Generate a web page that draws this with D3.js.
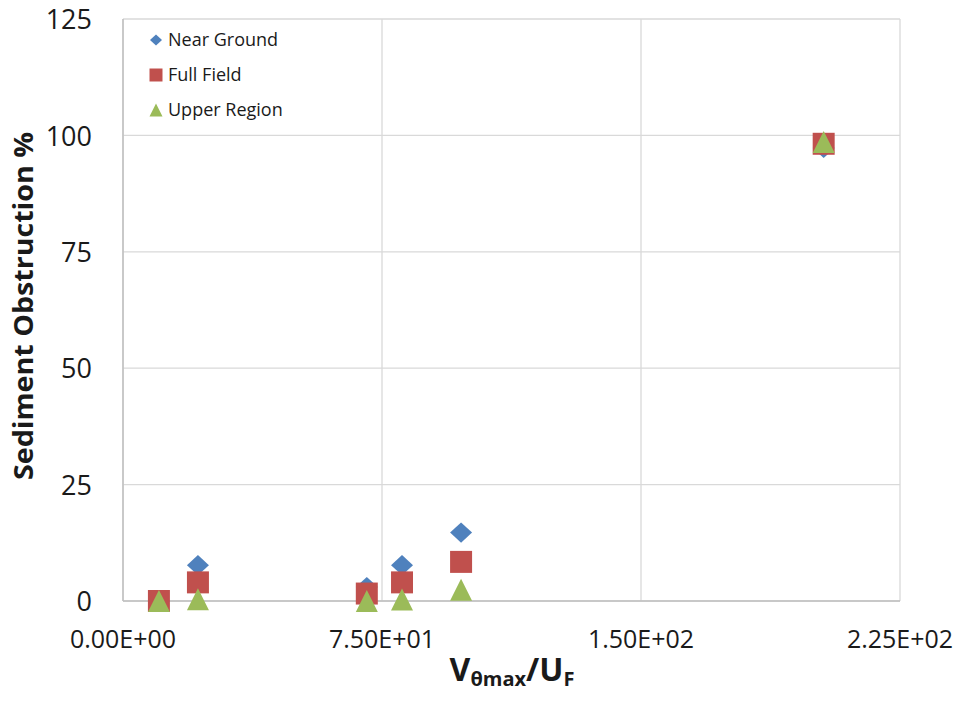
<!DOCTYPE html>
<html>
<head>
<meta charset="utf-8">
<script src="https://cdn.jsdelivr.net/npm/d3@7"></script>
<style>
  html, body { margin: 0; padding: 0; background: #fff; }
  svg { display: block; font-family: "Open Sans", "Liberation Sans", sans-serif; }
</style>
</head>
<body>
<svg id="chart" width="963" height="703"></svg>
<script>
// Ratio V_θmax / U_F for each case
const ratio = [10.4, 21.7, 70.6, 80.8, 97.9, 202.9];
// Sediment obstruction (%) per region
const nearGround  = [0, 7.7, 3.0, 7.7, 14.7, 97.3];
const fullField   = [0, 4.0, 1.6, 4.0, 8.4, 98.2];
const upperRegion = [0, 0.4, 0, 0.3, 2.4, 98.6];

const xTicks = [0, 75, 150, 225];
const yTicks = [0, 25, 50, 75, 100, 125];

const seriesNames = ["Near Ground", "Full Field", "Upper Region"];
const seriesColors = ["#4F81BD", "#C0504D", "#9BBB59"];
const seriesShapes = ["diamond", "square", "triangle"];
const seriesValues = [nearGround, fullField, upperRegion];

const svg = d3.select("#chart");
const plot = { left: 123, right: 900, top: 19, bottom: 601 };

const x = d3.scaleLinear().domain([0, 225]).range([plot.left, plot.right]);
const y = d3.scaleLinear().domain([0, 125]).range([plot.bottom, plot.top]);

// Marker outline centred on (cx, cy), s = full width
function shapePath(kind, cx, cy, s) {
  const h = s / 2;
  if (kind === "diamond") {
    const v = h * 0.92;
    return `M${cx},${cy - v}L${cx + h},${cy}L${cx},${cy + v}L${cx - h},${cy}Z`;
  }
  if (kind === "square") {
    return `M${cx - h},${cy - h}h${s}v${s}h${-s}Z`;
  }
  // triangle, centred on its bounding box
  return `M${cx},${cy - h}L${cx + h},${cy + h}L${cx - h},${cy + h}Z`;
}

// Gridlines
svg.append("g")
  .selectAll("line")
  .data(yTicks)
  .join("line")
  .attr("x1", plot.left).attr("x2", plot.right)
  .attr("y1", d => y(d)).attr("y2", d => y(d))
  .attr("stroke", "#D9D9D9").attr("stroke-width", 1.3);

svg.append("g")
  .selectAll("line")
  .data(xTicks)
  .join("line")
  .attr("x1", d => x(d)).attr("x2", d => x(d))
  .attr("y1", plot.top).attr("y2", plot.bottom)
  .attr("stroke", "#D9D9D9").attr("stroke-width", 1.3);

// Axis lines
svg.append("line")
  .attr("x1", plot.left).attr("x2", plot.left)
  .attr("y1", plot.top).attr("y2", plot.bottom)
  .attr("stroke", "#BFBFBF").attr("stroke-width", 1.5);
svg.append("line")
  .attr("x1", plot.left).attr("x2", plot.right)
  .attr("y1", plot.bottom).attr("y2", plot.bottom)
  .attr("stroke", "#BFBFBF").attr("stroke-width", 1.5);

// Y tick labels
svg.append("g")
  .selectAll("text")
  .data(yTicks)
  .join("text")
  .attr("x", 92)
  .attr("y", d => y(d))
  .attr("dy", "0.38em")
  .attr("text-anchor", "end")
  .attr("font-size", 27)
  .attr("fill", "#1a1a1a")
  .text(d => d);

// X tick labels in scientific notation
const sci = d => {
  if (d === 0) return "0.00E+00";
  const e = Math.floor(Math.log10(Math.abs(d)));
  const m = d / Math.pow(10, e);
  return m.toFixed(2) + "E+" + String(e).padStart(2, "0");
};
svg.append("g")
  .selectAll("text")
  .data(xTicks)
  .join("text")
  .attr("x", d => x(d))
  .attr("y", 648)
  .attr("text-anchor", "middle")
  .attr("font-size", 25)
  .attr("fill", "#1a1a1a")
  .text(sci);

// Axis titles
svg.append("text")
  .attr("transform", "translate(33,306) rotate(-90)")
  .attr("text-anchor", "middle")
  .attr("font-size", 26)
  .attr("font-weight", "bold")
  .attr("fill", "#1a1a1a")
  .attr("textLength", 348)
  .attr("lengthAdjust", "spacingAndGlyphs")
  .text("Sediment Obstruction %");

const xt = svg.append("text")
  .attr("x", 512)
  .attr("y", 681)
  .attr("text-anchor", "middle")
  .attr("font-weight", "bold")
  .attr("fill", "#1a1a1a")
  .attr("font-size", 32);
xt.append("tspan").text("V");
xt.append("tspan").attr("font-size", 20).attr("dy", 5).text("θmax");
xt.append("tspan").attr("dy", -5).text("/U");
xt.append("tspan").attr("font-size", 20).attr("dy", 5).text("F");

// Data markers, one group per series
seriesValues.forEach((vals, i) => {
  svg.append("g")
    .selectAll("path")
    .data(vals.map((v, j) => ({ x: ratio[j], y: v })))
    .join("path")
    .attr("d", d => shapePath(seriesShapes[i], x(d.x), y(d.y), 22))
    .attr("fill", seriesColors[i]);
});

// Legend
const legend = svg.append("g");
seriesNames.forEach((name, i) => {
  const ly = 40 + i * 35;
  legend.append("path")
    .attr("d", shapePath(seriesShapes[i], 156, ly, i === 0 ? 12 : 13))
    .attr("fill", seriesColors[i]);
  legend.append("text")
    .attr("x", 168)
    .attr("y", ly)
    .attr("dy", "0.35em")
    .attr("font-size", 18)
    .attr("fill", "#1a1a1a")
    .text(name);
});
</script>
</body>
</html>
